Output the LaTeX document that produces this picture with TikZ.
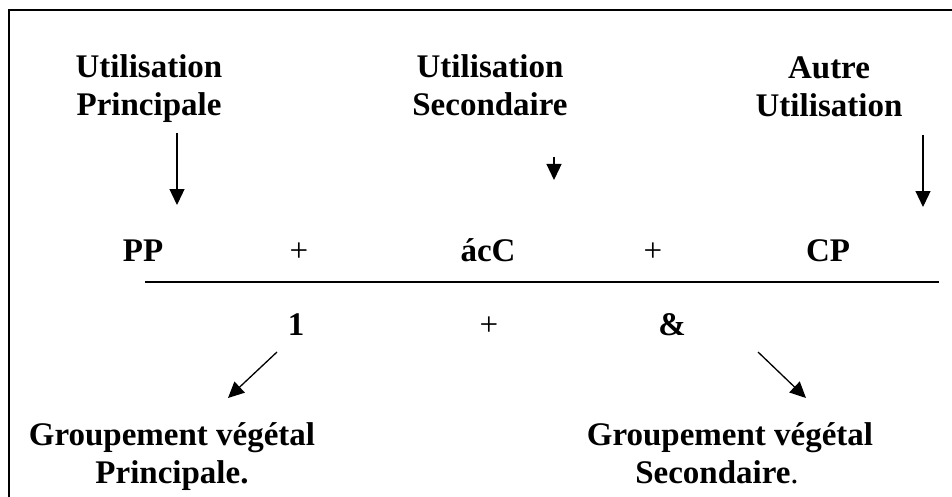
\documentclass[tikz,border=0pt]{standalone}
\usepackage{fontspec}
\setmainfont{Liberation Serif}
\usetikzlibrary{arrows.meta}
\begin{document}
\begin{tikzpicture}[x=1pt, y=-1pt,
            lbl/.style={font=\fontsize{33}{38}\selectfont\bfseries, align=center, inner sep=0pt},
            term/.style={font=\fontsize{33}{38}\selectfont\bfseries, inner sep=0pt, anchor=base},
            plus/.style={font=\fontsize{33}{38}\selectfont, inner sep=0pt, anchor=base},
            arr/.style={-{Triangle[length=16pt,width=15pt]}, line width=1.3pt}
        ]
        \useasboundingbox (0,0) rectangle (952,497);
        \draw[line width=1.5pt] (952,10) -- (9,10) -- (9,497);

        \node[lbl, anchor=north] (UP) at (149,54) {Utilisation\\ Principale};
        \node[lbl, anchor=north] (US) at (490,54) {Utilisation\\ Secondaire};
        \node[lbl, anchor=north] (AU) at (829,57) {Autre\\ Utilisation};

        \node[term] (PP) at (143,261) {PP};
        \node[plus] (p1) at (299,261) {+};
        \node[term] (AC) at (488,261) {ácC};
        \node[plus] (p2) at (653,261) {+};
        \node[term] (CP) at (828,261) {CP};

        \coordinate (bl) at (145,282);
        \coordinate (br) at (939,282);
        \draw[line width=2pt] (bl) -- (br);

        \node[term] (un) at (296,335) {1};
        \node[plus] (p3) at (489,335) {+};
        \node[term] (et) at (672,335) {\&};

        \node[lbl, anchor=north] (GP) at (172,422) {Groupement végétal\\ Principale.};
        \node[lbl, anchor=north] (GS) at (730,422) {Groupement végétal\\ Secondaire{\mdseries .}\hspace*{26pt}};

        \coordinate (a1s) at (177,133);
        \coordinate (a1e) at (177,205);
        \coordinate (a2s) at (554,157);
        \coordinate (a2e) at (554,180);
        \coordinate (a3s) at (923,135);
        \coordinate (a3e) at (923,207);
        \coordinate (a4s) at (277,352);
        \coordinate (a4e) at (228,398);
        \coordinate (a5s) at (758,352);
        \coordinate (a5e) at (806,398);
        \draw[arr] (a1s) -- (a1e);
        \draw[arr] (a2s) -- (a2e);
        \draw[arr] (a3s) -- (a3e);
        \draw[arr] (a4s) -- (a4e);
        \draw[arr] (a5s) -- (a5e);
    \end{tikzpicture}
\end{document}
